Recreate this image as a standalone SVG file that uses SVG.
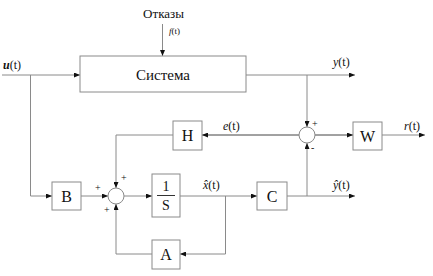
<svg xmlns="http://www.w3.org/2000/svg" width="433" height="276" viewBox="0 0 433 276" font-family="'Liberation Serif', 'DejaVu Serif', serif">
<style>
.box{fill:#fff;stroke:#8a8a8a;stroke-width:1}
.ln{fill:none;stroke:#8a8a8a;stroke-width:1}
.dk{fill:none;stroke:#444;stroke-width:1}
.sum{fill:#fff;stroke:#8a8a8a;stroke-width:1}
text{font-family:'Liberation Serif','DejaVu Serif',serif;fill:#111}
.bl{font-size:16px;text-anchor:middle}
.lb{font-size:12px}
.sg{font-size:10px}
</style>
<defs>
<marker id="ar" markerWidth="6" markerHeight="5" refX="6" refY="2.5" orient="auto" markerUnits="userSpaceOnUse">
<path d="M0,0 L6,2.5 L0,5 z" fill="#111"/>
</marker>
</defs>
<rect width="433" height="276" fill="#fff"/>
<g id="connectors">
<path class="ln" d="M162.5,24 V56" marker-end="url(#ar)"/>
<path class="ln" d="M2,75 H80" marker-end="url(#ar)"/>
<path class="ln" d="M30.5,75 V196 H52" marker-end="url(#ar)"/>
<path class="ln" d="M246,75 H355" marker-end="url(#ar)"/>
<path class="ln" d="M307,75 V127" marker-end="url(#ar)"/>
<path class="dk" d="M315,135 H353" marker-end="url(#ar)"/>
<path class="ln" d="M382,135 H425" marker-end="url(#ar)"/>
<path class="dk" d="M299,135 H202" marker-end="url(#ar)"/>
<path class="ln" d="M173,135 H116 V188" marker-end="url(#ar)"/>
<path class="ln" d="M81,196 H108" marker-end="url(#ar)"/>
<path class="ln" d="M124,196 H152" marker-end="url(#ar)"/>
<path class="ln" d="M180,196 H257" marker-end="url(#ar)"/>
<path class="ln" d="M225.5,196 V254 H180" marker-end="url(#ar)"/>
<path class="ln" d="M152,254 H116 V204" marker-end="url(#ar)"/>
<path class="ln" d="M287,196 H355" marker-end="url(#ar)"/>
<path class="ln" d="M307,196 V143" marker-end="url(#ar)"/>
</g>
<g id="system">
<rect class="box" x="80" y="56" width="166" height="36"/>
<text x="163" y="80" font-size="15" text-anchor="middle">Система</text>
</g>
<g id="faults">
<text x="163.5" y="18" font-size="13" text-anchor="middle">Отказы</text>
<text x="169" y="34" font-size="9"><tspan font-style="italic">f</tspan>(t)</text>
</g>
<g id="sum1">
<circle class="sum" cx="116" cy="196" r="8"/>
<text class="sg" x="95" y="191">+</text>
<text class="sg" x="121" y="181">+</text>
<text class="sg" x="104" y="213">+</text>
</g>
<g id="sum2">
<circle class="sum" cx="307" cy="135" r="8"/>
<text class="sg" x="312" y="127">+</text>
<text class="sg" x="311" y="151">-</text>
</g>
<g id="B">
<rect class="box" x="52" y="182" width="29" height="28"/>
<text class="bl" x="66.5" y="202">B</text>
</g>
<g id="integrator">
<rect class="box" x="152" y="174" width="28" height="43"/>
<text x="166" y="191" font-size="14" text-anchor="middle">1</text>
<line x1="157" y1="195.5" x2="175" y2="195.5" stroke="#333" stroke-width="1"/>
<text x="166" y="210" font-size="14" text-anchor="middle">S</text>
</g>
<g id="C">
<rect class="box" x="257" y="182" width="30" height="28"/>
<text class="bl" x="272" y="202">C</text>
</g>
<g id="A">
<rect class="box" x="152" y="240" width="28" height="29"/>
<text class="bl" x="166" y="260">A</text>
</g>
<g id="H">
<rect class="box" x="173" y="121" width="29" height="29"/>
<text class="bl" x="187.5" y="141">H</text>
</g>
<g id="W">
<rect class="box" x="353" y="122" width="29" height="28"/>
<text class="bl" x="367.5" y="142">W</text>
</g>
<g id="labels">
<text class="lb" x="3" y="69"><tspan font-style="italic" font-weight="bold">u</tspan>(t)</text>
<text class="lb" x="333" y="66"><tspan font-style="italic">y</tspan>(t)</text>
<text class="lb" x="404" y="130"><tspan font-style="italic">r</tspan>(t)</text>
<text class="lb" x="223" y="130"><tspan font-style="italic">e</tspan>(t)</text>
<text class="lb" x="203" y="189"><tspan font-style="italic">x̂</tspan>(t)</text>
<text class="lb" x="333" y="189"><tspan font-style="italic">ŷ</tspan>(t)</text>
</g>
</svg>
